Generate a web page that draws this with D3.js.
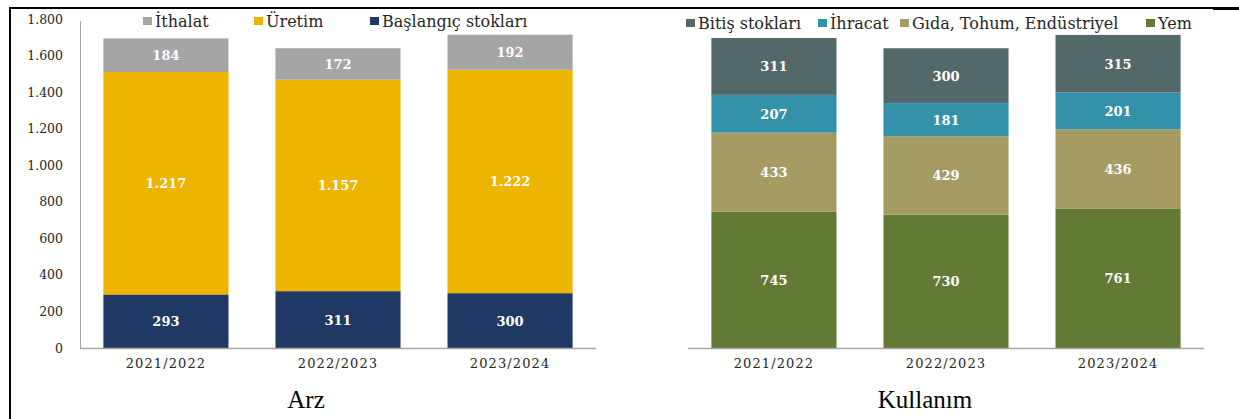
<!DOCTYPE html>
<html>
<head>
<meta charset="utf-8">
<script src="https://cdn.jsdelivr.net/npm/d3@7"></script>
<style>
  body { margin: 0; background: #fff; }
  text { font-family: "DejaVu Serif", serif; }
</style>
</head>
<body>
<script>
var years = ["2021/2022", "2022/2023", "2023/2024"];

// Arz (supply)
var arzKeys = ["Başlangıç stokları", "Üretim", "İthalat"];
var baslangic = [293, 311, 300];
var uretim = [1217, 1157, 1222];
var ithalat = [184, 172, 192];
var arzColors = ["#203864", "#edb400", "#a5a5a5"];
var arzLegend = ["İthalat", "Üretim", "Başlangıç stokları"];

// Kullanım (use)
var kulKeys = ["Yem", "Gıda, Tohum, Endüstriyel", "İhracat", "Bitiş stokları"];
var yem = [745, 730, 761];
var gida = [433, 429, 436];
var ihracat = [207, 181, 201];
var bitis = [311, 300, 315];
var kulColors = ["#637a35", "#a59b63", "#3491aa", "#536869"];
var kulLegend = ["Bitiş stokları", "İhracat", "Gıda, Tohum, Endüstriyel", "Yem"];

var yTicks = [0, 200, 400, 600, 800, 1000, 1200, 1400, 1600, 1800];

var tr = d3.formatLocale({decimal: ",", thousands: ".", grouping: [3], currency: ["", ""]});
var fmt = tr.format(",d");

var svg = d3.select("body").append("svg")
    .attr("width", 1239)
    .attr("height", 419);

// frame lines
svg.append("line").attr("x1", 9).attr("x2", 1239).attr("y1", 8).attr("y2", 8)
    .attr("stroke", "#000").attr("stroke-width", 2);
svg.append("line").attr("x1", 1213).attr("x2", 1239).attr("y1", 9).attr("y2", 9)
    .attr("stroke", "#000").attr("stroke-width", 2);
svg.append("line").attr("x1", 10).attr("x2", 10).attr("y1", 7).attr("y2", 419)
    .attr("stroke", "#000").attr("stroke-width", 2);

var y = d3.scaleLinear().domain([0, 1800]).range([348, 19]);

function drawChart(x0, keys, series, colors, legendNames, legendX, legendY, showAxis, title, titleX) {
    var rows = years.map(function(yr, i) {
        var r = {year: yr};
        keys.forEach(function(k, j) { r[k] = series[j][i]; });
        return r;
    });
    var stacked = d3.stack().keys(keys)(rows);

    var x = d3.scaleBand().domain(years).range([x0, x0 + 516]).paddingInner(0.273).paddingOuter(0.136);

    var g = svg.append("g");

    if (showAxis) {
        g.append("line").attr("x1", x0 + 0.5).attr("x2", x0 + 0.5).attr("y1", y(1800) + 2).attr("y2", y(0))
            .attr("stroke", "#a6a6a6").attr("stroke-width", 1);
        g.selectAll(".ytick").data(yTicks).enter().append("text")
            .attr("x", 63).attr("y", function(d) { return y(d) + 4.5; })
            .attr("text-anchor", "end")
            .attr("font-size", 12.5)
            .attr("fill", "#262626")
            .text(function(d) { return fmt(d); });
    }

    var layer = g.selectAll(".layer").data(stacked).enter().append("g")
        .attr("fill", function(d, i) { return colors[i]; });

    layer.selectAll("rect").data(function(d) { return d; }).enter().append("rect")
        .attr("x", function(d) { return x(d.data.year); })
        .attr("width", x.bandwidth())
        .attr("y", function(d) { return y(d[1]); })
        .attr("height", function(d) { return y(d[0]) - y(d[1]); });

    layer.selectAll("text").data(function(d) { return d; }).enter().append("text")
        .attr("x", function(d) { return x(d.data.year) + x.bandwidth() / 2; })
        .attr("y", function(d) { return (y(d[0]) + y(d[1])) / 2 + 5; })
        .attr("text-anchor", "middle")
        .attr("font-size", 13)
        .attr("font-weight", "bold")
        .attr("fill", "#fff")
        .text(function(d) { return fmt(d[1] - d[0]); });

    g.append("line").attr("x1", x0).attr("x2", x0 + 516).attr("y1", y(0) + 0.5).attr("y2", y(0) + 0.5)
        .attr("stroke", "#a6a6a6").attr("stroke-width", 1.3);

    g.selectAll(".xlab").data(years).enter().append("text")
        .attr("x", function(d) { return x(d) + x.bandwidth() / 2; })
        .attr("y", 368)
        .attr("text-anchor", "middle")
        .attr("font-size", 13)
        .attr("letter-spacing", 1.1)
        .attr("fill", "#262626")
        .text(function(d) { return d; });

    // legend
    legendNames.forEach(function(name, i) {
        var ci = keys.indexOf(name);
        g.append("rect").attr("x", legendX[i]).attr("y", legendY - 4).attr("width", 9).attr("height", 8)
            .attr("fill", colors[ci]);
        g.append("text").attr("x", legendX[i] + 12).attr("y", legendY + 5.5)
            .attr("font-size", 16)
            .attr("fill", "#262626")
            .text(name);
    });

    g.append("text")
        .attr("x", titleX)
        .attr("y", 408)
        .attr("text-anchor", "middle")
        .style("font-family", "'Liberation Serif', serif")
        .attr("font-size", 25)
        .attr("fill", "#000")
        .text(title);
}

drawChart(80, arzKeys, [baslangic, uretim, ithalat], arzColors, arzLegend,
    [143, 254, 370], 21, true, "Arz", 306);
drawChart(688, kulKeys, [yem, gida, ihracat, bitis], kulColors, kulLegend,
    [686, 818, 900, 1146], 23, false, "Kullanım", 925);
</script>
</body>
</html>
